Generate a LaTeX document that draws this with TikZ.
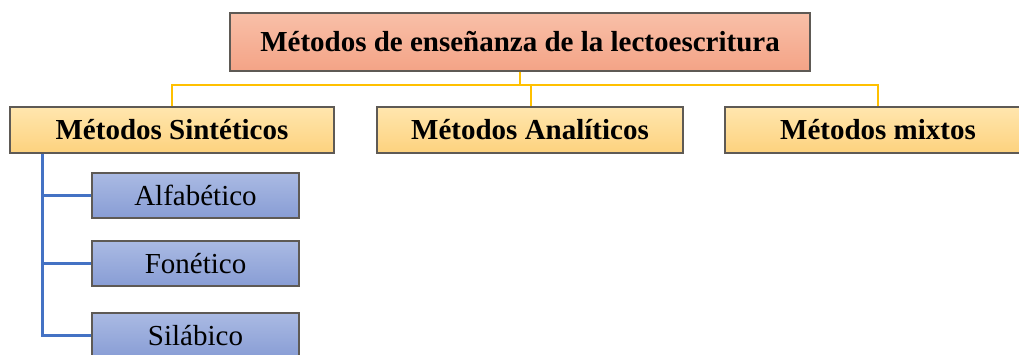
\documentclass[tikz,border=0pt]{standalone}
\usepackage{fontspec}
\setmainfont{Liberation Serif}
\definecolor{topA}{HTML}{F8C0A8}
\definecolor{topB}{HTML}{F4A386}
\definecolor{yelA}{HTML}{FFE6AE}
\definecolor{yelB}{HTML}{FDD27E}
\definecolor{bluA}{HTML}{AABAE3}
\definecolor{bluB}{HTML}{889DD5}
\definecolor{edge}{HTML}{5E5A55}
\definecolor{yline}{HTML}{FFC000}
\definecolor{bline}{HTML}{4472C4}
\tikzset{
  box/.style={draw=edge, line width=1.2pt, inner sep=0pt, align=center},
  topbox/.style={box, top color=topA, bottom color=topB, font=\fontsize{29}{32}\selectfont\bfseries},
  lvlbox/.style={box, top color=yelA, bottom color=yelB, font=\fontsize{29}{32}\selectfont\bfseries, minimum height=46pt},
  subbox/.style={box, top color=bluA, bottom color=bluB, font=\fontsize{29}{32}\selectfont, minimum width=207pt, minimum height=45pt},
  yconn/.style={draw=yline, line width=2.2pt},
  bconn/.style={draw=bline, line width=2.2pt},
}
\begin{document}
\begin{tikzpicture}[x=1pt,y=-1pt]
\useasboundingbox (0,0) rectangle (1019,354);
\clip (0,0) rectangle (1019,354);
\fill[white] (0,0) rectangle (1019,354);
\node[topbox, minimum width=580pt, minimum height=58pt] (top) at (520,42) {Métodos de enseñanza de la lectoescritura};
\node[lvlbox, minimum width=324pt] (L) at (172,130) {Métodos Sintéticos};
\node[lvlbox, minimum width=306pt] (M) at (530,130) {Métodos Analíticos};
\node[lvlbox, minimum width=306pt] (R) at (878,130) {Métodos mixtos};
\node[subbox] (A) at (195.5,195.5) {Alfabético};
\node[subbox] (F) at (195.5,263.5) {Fonético};
\node[subbox] (S) at (195.5,335.5) {Silábico};
\coordinate (bus) at (0,85);
\draw[yconn] (top.south) -- (top.south |- bus);
\draw[yconn] (L.north) -- (L.north |- bus) -- (R.north |- bus) -- (R.north);
\draw[yconn] ([xshift=1pt]M.north) -- ([xshift=1pt]M.north |- bus);
\coordinate (sp) at ([xshift=33pt]L.south west);
\draw[bconn] (sp) |- (S.west);
\draw[bconn] (A.west) -- (A.west -| sp);
\draw[bconn] (F.west) -- (F.west -| sp);
\end{tikzpicture}
\end{document}
